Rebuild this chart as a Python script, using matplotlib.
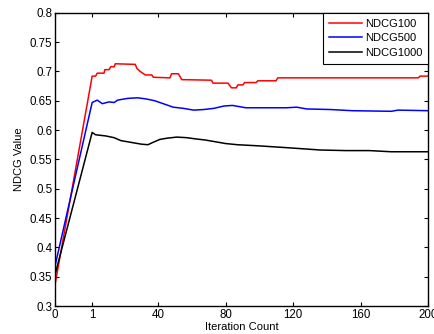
import matplotlib
matplotlib.use("Agg")
import matplotlib.pyplot as plt
import numpy as np

plt.rcParams["font.family"] = ["Liberation Sans", "DejaVu Sans"]

# iteration 0 is drawn at x=0, later iterations are shifted right
OFFSET = 21

# values (iteration, ndcg)
red_iter = [0, 1, 3, 4, 8, 8.5, 11, 12, 14, 14.7, 26.5, 27.5, 29.4, 32.4, 36.3, 37.2, 47, 48, 52, 54,
            71.6, 72.5, 81.4, 83.4, 86.3, 87.2, 90.2, 91.2, 98, 99, 109.8, 110.8, 194, 195, 200]
red_val = [0.336, 0.692, 0.692, 0.697, 0.697, 0.703, 0.703, 0.708, 0.708, 0.713, 0.712, 0.705, 0.700,
           0.694, 0.694, 0.690, 0.689, 0.696, 0.696, 0.686, 0.685, 0.680, 0.680, 0.672, 0.672, 0.677,
           0.677, 0.681, 0.681, 0.684, 0.684, 0.689, 0.689, 0.692, 0.692]

blue_iter = [0, 1, 4, 7, 11, 14, 16, 22, 28, 33, 38, 43, 49, 55, 61, 67, 73, 79, 84, 88, 92, 100, 116,
             122, 128, 142, 155, 178, 182, 200]
blue_val = [0.368, 0.647, 0.651, 0.645, 0.648, 0.647, 0.651, 0.654, 0.655, 0.653, 0.650, 0.645, 0.639,
            0.637, 0.634, 0.635, 0.637, 0.641, 0.642, 0.640, 0.638, 0.638, 0.638, 0.639, 0.636, 0.635,
            0.633, 0.632, 0.634, 0.633]

black_iter = [0, 1, 3, 9, 14, 18, 22, 26, 30, 34, 37, 41, 45, 51, 57, 62, 68, 74, 80, 87, 100, 116,
              136, 151, 165, 178, 200]
black_val = [0.353, 0.596, 0.592, 0.590, 0.587, 0.582, 0.580, 0.578, 0.576, 0.575, 0.579, 0.584, 0.586,
             0.588, 0.587, 0.585, 0.583, 0.580, 0.577, 0.575, 0.573, 0.570, 0.566, 0.565, 0.565, 0.563,
             0.563]

tick_labels = ["0", "1", "40", "80", "120", "160", "200"]
tick_iters = [0, 1, 40, 80, 120, 160, 200]


def to_pos(iters):
    iters = np.asarray(iters, dtype=float)
    return np.where(iters > 0, iters + OFFSET, 0.0)


fig = plt.figure(figsize=(4.35, 3.34), dpi=100)
ax = fig.add_axes([0.1264, 0.0838, 0.8586, 0.878])

ax.plot(to_pos(red_iter), red_val, color="red", lw=1.1, label="NDCG100")
ax.plot(to_pos(blue_iter), blue_val, color="blue", lw=1.1, label="NDCG500")
ax.plot(to_pos(black_iter), black_val, color="black", lw=1.1, label="NDCG1000")

ax.set_xlim(0, 200 + OFFSET)
ax.set_ylim(0.3, 0.8)
ax.set_xticks(to_pos(tick_iters))
ax.set_xticklabels(tick_labels)
ax.set_yticks(np.arange(0.3, 0.801, 0.05))
ax.set_yticklabels(["0.3", "0.35", "0.4", "0.45", "0.5", "0.55", "0.6", "0.65", "0.7", "0.75", "0.8"])

# matlab style box with inward ticks on every side
ax.tick_params(direction="in", top=True, right=True, labelsize=8.3, length=3, width=0.8, pad=2)
for s in ax.spines.values():
    s.set_linewidth(1.0)

ax.set_xlabel("Iteration Count", fontsize=8, labelpad=1)
ax.set_ylabel("NDCG Value", fontsize=8, labelpad=4)

leg = ax.legend(loc="upper right", fontsize=8, fancybox=False, edgecolor="black", framealpha=1,
                borderaxespad=0, handlelength=2.9, handletextpad=0.3, labelspacing=0.4,
                borderpad=0.55)
leg.get_frame().set_linewidth(0.8)

plt.savefig("out.png", dpi=100)
